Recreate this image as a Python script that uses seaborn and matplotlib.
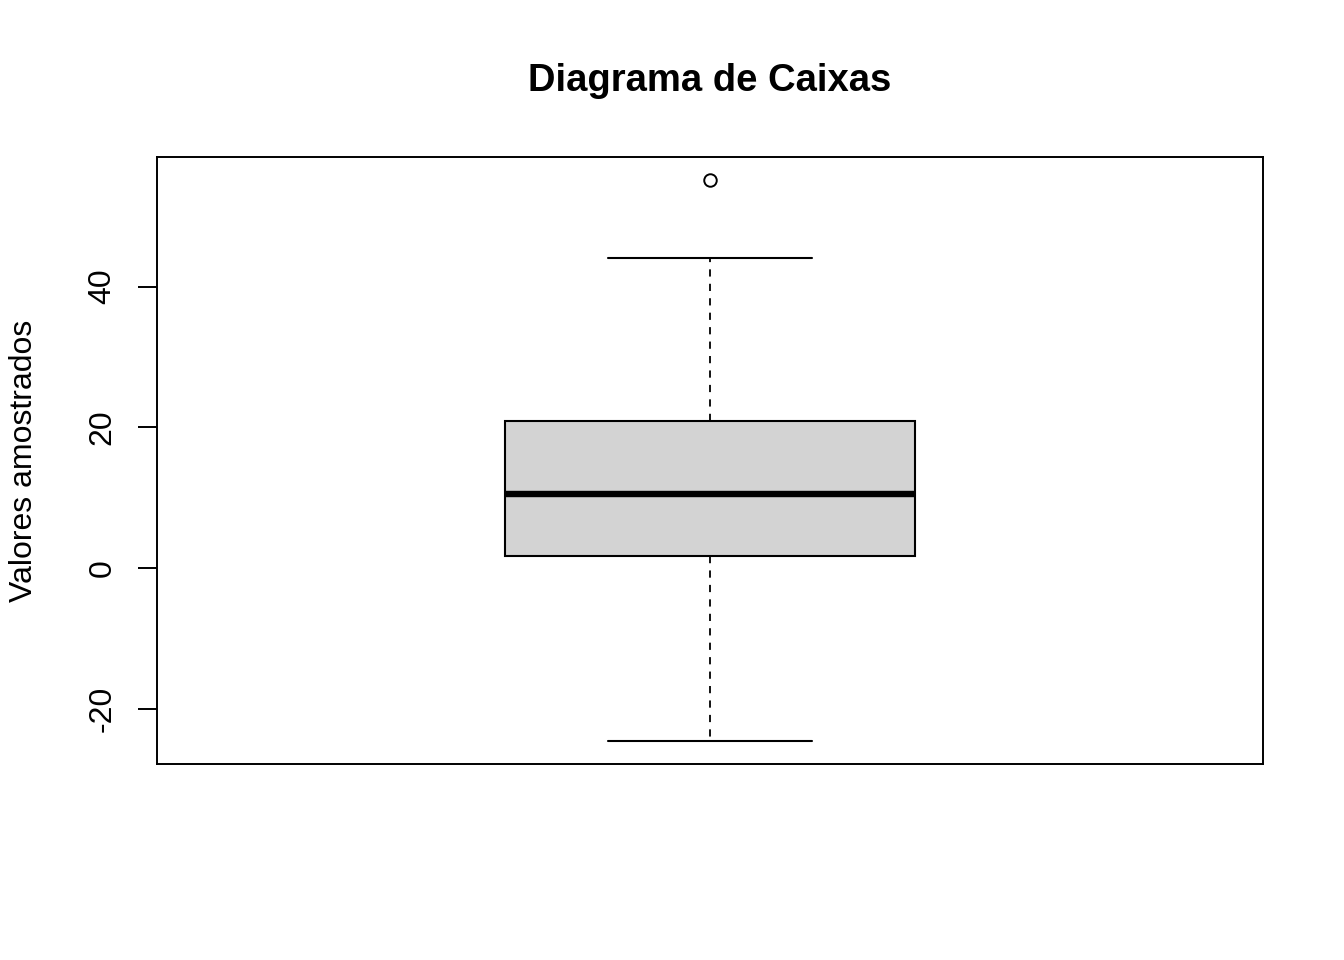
import matplotlib
matplotlib.use("Agg")
import matplotlib.pyplot as plt
import seaborn as sns
import pandas as pd

# Values (box statistics), expanded to a small sample
lower_whisker = -24.5
q1 = 1.8
median = 10.6
q3 = 20.9
upper_whisker = 44.0
outliers = [55.2]
fillers = [-10.0, 6.0, 15.0]

values = [lower_whisker, fillers[0], q1, fillers[1], median, fillers[2], q3, upper_whisker] + outliers
df = pd.DataFrame({"x": [0] * len(values), "valor": values})

title = "Diagrama de Caixas"
ylabel = "Valores amostrados"
yticks = [-20, 0, 20, 40]

sns.set_style("white")
plt.rcParams["font.family"] = ["Liberation Sans", "DejaVu Sans"]
plt.rcParams["text.color"] = "black"
plt.rcParams["axes.labelcolor"] = "black"
plt.rcParams["ytick.color"] = "black"

fig = plt.figure(figsize=(13.44, 9.6), dpi=100)
ax = fig.add_axes([157 / 1344, 1 - 764 / 960, (1263 - 157) / 1344, (764 - 157) / 960])

sns.boxplot(
    data=df, y="valor", ax=ax, width=0.37, color="#D3D3D3",
    linecolor="black", linewidth=1.5, whis=1.5,
    boxprops=dict(facecolor="#D3D3D3", edgecolor="black", linewidth=1.5),
    whiskerprops=dict(linestyle=(0, (4, 4)), color="black", linewidth=1.3),
    capprops=dict(color="black", linewidth=1.5),
    medianprops=dict(color="black", linewidth=4.6),
    flierprops=dict(marker="o", markerfacecolor="none", markeredgecolor="black",
                    markersize=9, markeredgewidth=1.4),
    capwidths=0.185,
)

ax.set_xlim(-0.5, 0.5)
ax.set_ylim(-27.8, 58.4)
ax.set_xticks([])
ax.set_xlabel("")
ax.set_yticks(yticks)
ax.set_yticklabels([str(t) for t in yticks], rotation=90, va="center", fontsize=23,
                   color="black")
ax.tick_params(axis="y", direction="out", length=13.5, width=1.4, color="black",
               pad=15, left=True)
for s in ax.spines.values():
    s.set_visible(True)
    s.set_color("black")
    s.set_linewidth(1.4)
ax.set_ylabel(ylabel, fontsize=23, labelpad=35, color="black")
fig.text(710 / 1344, 1 - 81 / 960, title, ha="center", va="center",
         fontsize=27.5, fontweight="bold", color="black")

fig.savefig("out.png", dpi=100, facecolor="white")
